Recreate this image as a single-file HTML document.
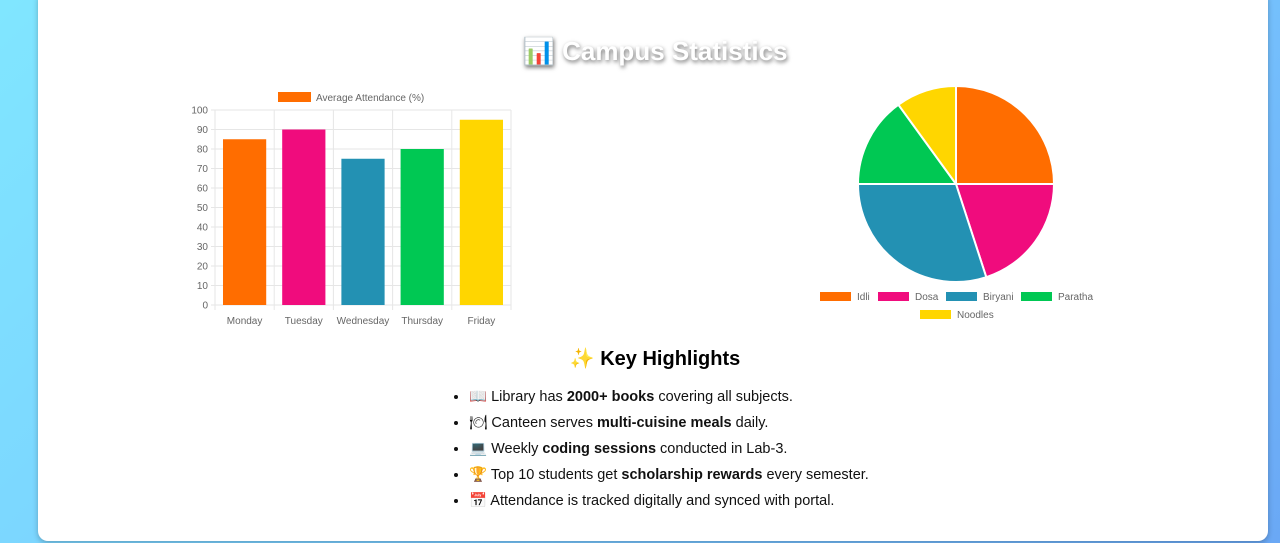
<!DOCTYPE html>
<html><head><meta charset="utf-8"><style>
html,body{margin:0;padding:0;width:1280px;height:543px;overflow:hidden;}
body{background:linear-gradient(135deg,#80e6ff 0%,#78c8ff 60%,#6aa8f5 100%);font-family:"Liberation Sans",sans-serif;position:relative;}
#card{position:absolute;left:38px;top:-10px;width:1230px;height:551px;background:#fff;border-radius:10px;box-shadow:0 2px 6px rgba(0,0,0,.25);}
#title{position:absolute;left:28px;width:1254px;top:36px;text-align:center;font-size:26px;font-weight:bold;color:#fff;text-shadow:1px 2px 4px rgba(0,0,0,.55);}
#hl{position:absolute;left:28px;width:1254px;top:346px;text-align:center;font-size:20px;font-weight:bold;color:#000;}
ul{position:absolute;left:452px;top:387px;margin:0;padding:0 0 0 17px;font-size:14.5px;color:#111;}
li{height:26px;line-height:20px;}
svg text{font-family:"Liberation Sans",sans-serif;}
</style></head><body>
<div id="card"></div>
<div id="title">📊 Campus Statistics</div>
<svg id="bar" width="1280" height="543" style="position:absolute;left:0;top:0"></svg>
<div id="hl">✨ Key Highlights</div>
<ul>
<li>📖 Library has <b>2000+ books</b> covering all subjects.</li>
<li>🍽 Canteen serves <b>multi-cuisine meals</b> daily.</li>
<li>💻 Weekly <b>coding sessions</b> conducted in Lab-3.</li>
<li>🏆 Top 10 students get <b>scholarship rewards</b> every semester.</li>
<li>📅 Attendance is tracked digitally and synced with portal.</li>
</ul>
<script>
const days=["Monday","Tuesday","Wednesday","Thursday","Friday"];
const attendance=[85,90,75,80,95];
const yTicks=[0,10,20,30,40,50,60,70,80,90,100];
const foods=["Idli","Dosa","Biryani","Paratha","Noodles"];
const foodShare=[25,20,30,15,10];
const colors=["#ff6d00","#f00c7d","#2391b3","#00c853","#ffd600"];
const NS="http://www.w3.org/2000/svg";
const svg=document.getElementById('bar');
function mk(t,a,txt){const e=document.createElementNS(NS,t);for(const k in a)e.setAttribute(k,a[k]);if(txt!=null)e.textContent=txt;svg.appendChild(e);return e;}
const x0=215,x1=511,yT=110,yB=305;
const y=v=>yB-(v/100)*(yB-yT);
const band=(x1-x0)/days.length;
yTicks.forEach(t=>{mk('line',{x1:x0-4,x2:x1,y1:y(t),y2:y(t),stroke:'#e6e6e6'});
const l=mk('text',{x:x0-7,y:y(t)+3.5,'text-anchor':'end','font-size':10,fill:'#666'},t);
});
for(let i=0;i<=days.length;i++)mk('line',{x1:x0+i*band,x2:x0+i*band,y1:yT,y2:yB+5,stroke:'#e6e6e6'});
days.forEach((d,i)=>{const bw=band*0.73;const bx=x0+i*band+(band-bw)/2;
const r=mk('rect',{x:bx,y:y(attendance[i]),width:bw,height:yB-y(attendance[i]),fill:colors[i]});

const t=mk('text',{x:x0+i*band+band/2,y:yB+19,'text-anchor':'middle','font-size':10,fill:'#666'},d);
});
const lg=mk('rect',{x:278,y:92,width:33,height:10,fill:colors[0]});

const lt=mk('text',{x:316,y:101,'font-size':10,fill:'#666'},'Average Attendance (%)');

const cx=956,cy=184,R=98;const tot=foodShare.reduce((a,b)=>a+b,0);let ang=0;
foodShare.forEach((v,i)=>{const a0=ang,a1=ang+v/tot*2*Math.PI;ang=a1;
const p=(a)=>[cx+R*Math.sin(a),cy-R*Math.cos(a)];const [sx,sy]=p(a0),[ex,ey]=p(a1);
const s=mk('path',{d:`M${cx},${cy}L${sx},${sy}A${R},${R} 0 ${a1-a0>Math.PI?1:0} 1 ${ex},${ey}Z`,fill:colors[i],stroke:'#fff','stroke-width':2});
});
const lx=[820,878,946,1021,920],ly=[296,296,296,296,314];
foods.forEach((f,i)=>{const r=mk('rect',{x:lx[i],y:ly[i]-4,width:31,height:9,fill:colors[i]});

const t=mk('text',{x:lx[i]+37,y:ly[i]+4,'font-size':10,fill:'#666'},f);
});
</script>
</body></html>
